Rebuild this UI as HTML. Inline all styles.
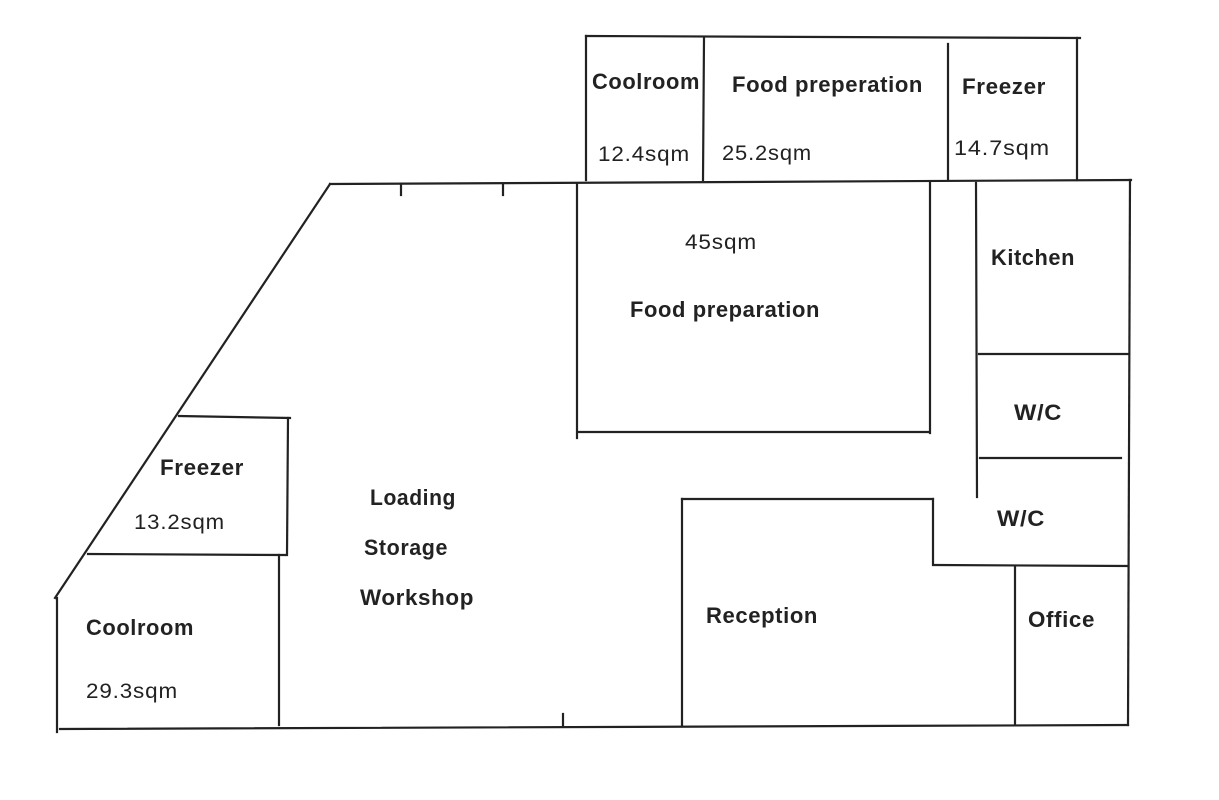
<!DOCTYPE html>
<html><head><style>
html,body{margin:0;padding:0;background:#fff;width:1219px;height:800px;overflow:hidden}
svg text{font-family:"Liberation Sans",sans-serif;fill:#222}
.b{font-weight:bold;font-size:22px;letter-spacing:0.6px}
.n{font-size:21px;letter-spacing:0.8px}
</style></head><body>
<svg width="1219" height="800" viewBox="0 0 1219 800" xmlns="http://www.w3.org/2000/svg">
<g stroke="#222" stroke-width="2.2" fill="none" stroke-linecap="square">
<line x1="586" y1="36" x2="1080" y2="38"/>
<line x1="586" y1="36" x2="586" y2="180"/>
<line x1="704" y1="38" x2="703" y2="180"/>
<line x1="948" y1="44" x2="948" y2="180"/>
<line x1="1077" y1="38" x2="1077" y2="180"/>
<line x1="330" y1="184" x2="1131" y2="180"/>
<line x1="1130" y1="180" x2="1128" y2="725"/>
<line x1="60" y1="729" x2="1128" y2="725"/>
<line x1="330" y1="184" x2="55" y2="598"/>
<line x1="57" y1="598" x2="57" y2="732"/>
<line x1="401" y1="184" x2="401" y2="195"/>
<line x1="503" y1="184" x2="503" y2="195"/>
<line x1="563" y1="714" x2="563" y2="726"/>
<line x1="577" y1="184" x2="577" y2="438"/>
<line x1="578" y1="432" x2="928" y2="432"/>
<line x1="930" y1="183" x2="930" y2="433"/>
<line x1="976" y1="183" x2="977" y2="497"/>
<line x1="979" y1="354" x2="1129" y2="354"/>
<line x1="980" y1="458" x2="1121" y2="458"/>
<line x1="682" y1="499" x2="933" y2="499"/>
<line x1="682" y1="499" x2="682" y2="725"/>
<line x1="933" y1="499" x2="933" y2="565"/>
<line x1="935" y1="565" x2="1128" y2="566"/>
<line x1="1015" y1="566" x2="1015" y2="725"/>
<line x1="179" y1="416" x2="290" y2="418"/>
<line x1="288" y1="418" x2="287" y2="555"/>
<line x1="88" y1="554" x2="285" y2="555"/>
<line x1="279" y1="555" x2="279" y2="725"/>
</g>
<text class="b" x="592" y="89" textLength="108" lengthAdjust="spacingAndGlyphs">Coolroom</text>
<text class="b" x="732" y="92" textLength="191" lengthAdjust="spacingAndGlyphs">Food preperation</text>
<text class="b" x="962" y="94" textLength="84" lengthAdjust="spacingAndGlyphs">Freezer</text>
<text class="n" x="598" y="161" textLength="92" lengthAdjust="spacingAndGlyphs">12.4sqm</text>
<text class="n" x="722" y="160" textLength="90" lengthAdjust="spacingAndGlyphs">25.2sqm</text>
<text class="n" x="954" y="155" textLength="96" lengthAdjust="spacingAndGlyphs">14.7sqm</text>
<text class="n" x="685" y="249" textLength="72" lengthAdjust="spacingAndGlyphs">45sqm</text>
<text class="b" x="630" y="317" textLength="190" lengthAdjust="spacingAndGlyphs">Food preparation</text>
<text class="b" x="991" y="265" textLength="84" lengthAdjust="spacingAndGlyphs">Kitchen</text>
<text class="b" x="1014" y="420" textLength="48" lengthAdjust="spacingAndGlyphs">W/C</text>
<text class="b" x="997" y="526" textLength="48" lengthAdjust="spacingAndGlyphs">W/C</text>
<text class="b" x="706" y="623" textLength="112" lengthAdjust="spacingAndGlyphs">Reception</text>
<text class="b" x="1028" y="627" textLength="67" lengthAdjust="spacingAndGlyphs">Office</text>
<text class="b" x="370" y="505" textLength="86" lengthAdjust="spacingAndGlyphs">Loading</text>
<text class="b" x="364" y="555" textLength="84" lengthAdjust="spacingAndGlyphs">Storage</text>
<text class="b" x="360" y="605" textLength="114" lengthAdjust="spacingAndGlyphs">Workshop</text>
<text class="b" x="160" y="475" textLength="84" lengthAdjust="spacingAndGlyphs">Freezer</text>
<text class="n" x="134" y="529" textLength="91" lengthAdjust="spacingAndGlyphs">13.2sqm</text>
<text class="b" x="86" y="635" textLength="108" lengthAdjust="spacingAndGlyphs">Coolroom</text>
<text class="n" x="86" y="698" textLength="92" lengthAdjust="spacingAndGlyphs">29.3sqm</text>
</svg>
</body></html>
